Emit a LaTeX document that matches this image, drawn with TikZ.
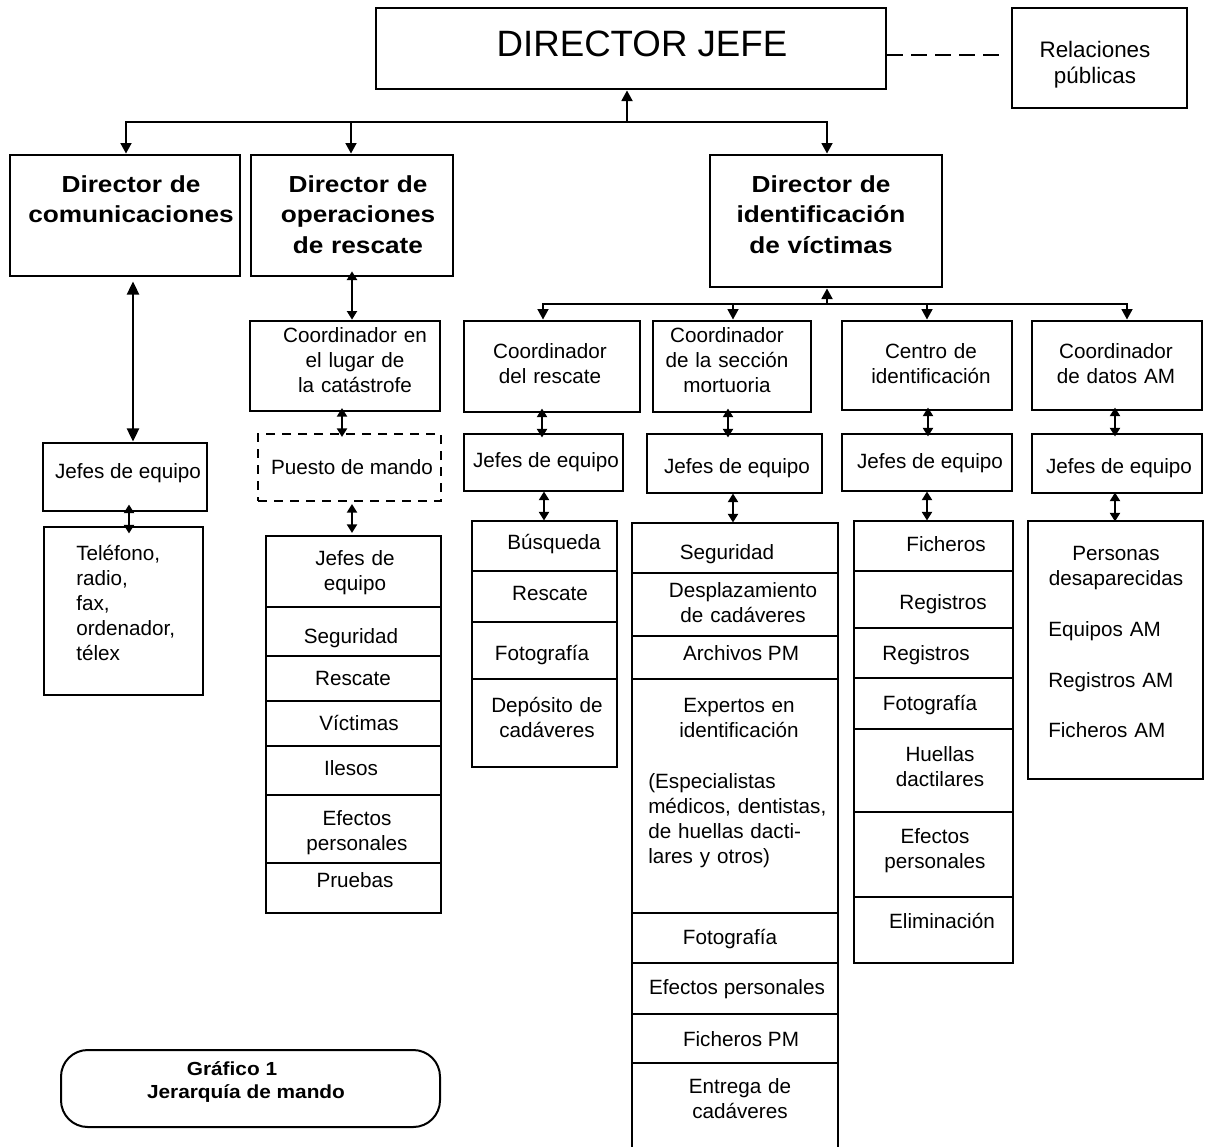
\documentclass[tikz,border=0pt]{standalone}
\usepackage{fontspec}
\setmainfont{Liberation Sans}
\newfontfamily\widefam{Liberation Sans}[FakeStretch=1.13]
\newfontfamily\capfam{Liberation Sans}[FakeStretch=1.1]
\usetikzlibrary{arrows.meta,fit,calc}
\newcommand\nf{\fontsize{15.5pt}{18.75pt}\selectfont}
\newcommand\hf{\widefam\fontsize{17.4pt}{22.9pt}\selectfont\bfseries}
\newcommand\djf{\fontsize{27.5pt}{33pt}\selectfont}
\newcommand\rpf{\fontsize{16.8pt}{19.5pt}\selectfont}
\newcommand\cf{\capfam\fontsize{14.2pt}{17.25pt}\selectfont\bfseries}
\tikzset{
  bx/.style={draw, line width=2pt, inner sep=0pt},
  ln/.style={line width=2pt},
  bar/.style={line width=2pt, line cap=rect},
  ar/.style={ln, -{Triangle[length=8pt,width=8pt]}},
  sdar/.style={ln, {Triangle[length=6.5pt,width=7.5pt]}-{Triangle[length=6.5pt,width=7.5pt]}},
  ldar/.style={ln, {Triangle[length=10pt,width=9pt]}-{Triangle[length=10pt,width=9pt]}},
  txt/.style={inner sep=0pt, anchor=base, font=\nf},
  mtxt/.style={txt, align=center},
  ltxt/.style={txt, anchor=base west, align=left},
}
\newcommand\BX[5]{\node[bx, fit={(#2,#3) (#4,#5)}] (#1) {};}
\newcommand\TX[4]{\node[txt] (#1) at (#2,#3) {#4};}
\newcommand\MT[5]{\node[mtxt, text width={#4*0.75pt}] (#1) at (#2,#3) {#5};}
\newcommand\LT[5]{\node[ltxt, text width={#4*0.75pt}] (#1) at (#2,#3) {#5};}
\newcommand\SDA[3]{\coordinate (kx) at (#3,0);
  \coordinate (km) at ($(#1.south -| kx)!0.5!(#2.north -| kx)$);
  \draw[sdar] ($(km)+(0,-14.5)$) -- ($(km)+(0,14.5)$);}
\begin{document}
\begin{tikzpicture}[x=0.75pt,y=-0.75pt]
\useasboundingbox (0,0) rectangle (1208,1147);
% top
\BX{dj}{376}{8}{886}{89}
\node[txt, font=\djf] (djt) at (642,56) {DIRECTOR JEFE};
\BX{rp}{1012}{8}{1187}{108}
\node[mtxt, font=\rpf, text width={170*0.75pt}] (rpt) at (1095,57) {Relaciones\\públicas};
\coordinate (dl) at (0,55);
\coordinate (dr) at (1007,55);
\draw[line width=1.5pt, dash pattern=on 12pt off 6pt] (dj.east |- dl) -- (dr);
% level 1
\BX{dcom}{10}{155}{240}{276}
\BX{dops}{251}{155}{453}{276}
\BX{did}{710}{155}{942}{287}
\node[mtxt, font=\hf, text width={230*0.75pt}] (dcomt) at (131,192) {Director de\\comunicaciones};
\node[mtxt, font=\hf, text width={200*0.75pt}] (dopst) at (358,192) {Director de\\operaciones\\de rescate};
\node[mtxt, font=\hf, text width={230*0.75pt}] (didt) at (821,192) {Director de\\identificación\\de víctimas};
\coordinate (b0) at (627,122);
\coordinate (b1) at (126,122);
\coordinate (b2) at (351,122);
\coordinate (b3) at (827,122);
\draw[bar] (b1) -- (b3);
\draw[ar] (b0) -- (b0 |- dj.south);
\draw[ar] (b1) -- (b1 |- dcom.north);
\draw[ar] (b2) -- (b2 |- dops.north);
\draw[ar] (b3) -- (b3 |- did.north);
% communications column
\BX{jcom}{43}{443}{207}{511}
\TX{jcomt}{128}{478}{Jefes de equipo}
\BX{tel}{44}{527}{203}{695}
\LT{telt}{76}{560}{120}{Teléfono,\\radio,\\fax,\\ordenador,\\télex}
\coordinate (k1) at (133,0);
\draw[ldar] ([yshift=-3pt]dcom.south -| k1) -- (jcom.north -| k1);
\SDA{jcom}{tel}{129}
% operations column
\BX{cos}{250}{321}{440}{411}
\MT{cost}{355}{342}{190}{Coordinador en\\el lugar de\\la catástrofe}
\node[draw, line width=2pt, dash pattern=on 7pt off 5pt, inner sep=0pt, fit={(258,434) (441,501)}] (pm) {};
\TX{pmt}{352}{474}{Puesto de mando}
\BX{o1}{266}{536}{441}{607}
\BX{o2}{266}{607}{441}{656}
\BX{o3}{266}{656}{441}{701}
\BX{o4}{266}{701}{441}{746}
\BX{o5}{266}{746}{441}{795}
\BX{o6}{266}{795}{441}{863}
\BX{o7}{266}{863}{441}{913}
\MT{o1t}{355}{565}{175}{Jefes de\\equipo}
\TX{o2t}{351}{643}{Seguridad}
\TX{o3t}{353}{685}{Rescate}
\TX{o4t}{359}{730}{Víctimas}
\TX{o5t}{351}{775}{Ilesos}
\MT{o6t}{357}{825}{175}{Efectos\\personales}
\TX{o7t}{355}{887}{Pruebas}
\coordinate (k2) at (352,0);
\draw[sdar] ([yshift=4.5pt]dops.south -| k2) -- (cos.north -| k2);
\SDA{cos}{pm}{342}
\SDA{pm}{o1}{352}
% identification subtree
\BX{crs}{464}{321}{640}{412}
\BX{cmo}{653}{321}{811}{412}
\BX{cid}{842}{321}{1012}{410}
\BX{cam}{1032}{321}{1202}{410}
\MT{crst}{550}{358}{176}{Coordinador\\del rescate}
\MT{cmot}{727}{342}{158}{Coordinador\\de la sección\\mortuoria}
\MT{cidt}{931}{358}{170}{Centro de\\identificación}
\MT{camt}{1116}{358}{170}{Coordinador\\de datos AM}
\coordinate (r0) at (827,304);
\coordinate (r1) at (543,304);
\coordinate (r2) at (733,304);
\coordinate (r3) at (927,304);
\coordinate (r4) at (1127,304);
\draw[bar] (r1) -- (r4);
\draw[ar] (r0) -- (r0 |- did.south);
\draw[ar] (r1) -- (r1 |- crs.north);
\draw[ar] (r2) -- (r2 |- cmo.north);
\draw[ar] (r3) -- (r3 |- cid.north);
\draw[ar] (r4) -- (r4 |- cam.north);
\BX{jrs}{464}{434}{623}{491}
\BX{jmo}{647}{434}{822}{493}
\BX{jid}{842}{434}{1012}{491}
\BX{jam}{1032}{434}{1202}{493}
\TX{jrst}{546}{467}{Jefes de equipo}
\TX{jmot}{737}{473}{Jefes de equipo}
\TX{jidt}{930}{468}{Jefes de equipo}
\TX{jamt}{1119}{473}{Jefes de equipo}
\SDA{crs}{jrs}{542}
\SDA{cmo}{jmo}{728}
\SDA{cid}{jid}{928}
\SDA{cam}{jam}{1115}
% rescue list
\BX{rs1}{472}{521}{617}{571}
\BX{rs2}{472}{571}{617}{622}
\BX{rs3}{472}{622}{617}{679}
\BX{rs4}{472}{679}{617}{767}
\TX{rs1t}{554}{549}{Búsqueda}
\TX{rs2t}{550}{600}{Rescate}
\TX{rs3t}{542}{660}{Fotografía}
\MT{rs4t}{547}{712}{145}{Depósito de\\cadáveres}
\SDA{jrs}{rs1}{544}
% mortuary list
\BX{mo1}{632}{523}{838}{573}
\BX{mo2}{632}{573}{838}{636}
\BX{mo3}{632}{636}{838}{679}
\BX{mo4}{632}{679}{838}{913}
\BX{mo5}{632}{913}{838}{963}
\BX{mo6}{632}{963}{838}{1014}
\BX{mo7}{632}{1014}{838}{1063}
\BX{mo8}{632}{1063}{838}{1152}
\TX{mo1t}{727}{559}{Seguridad}
\MT{mo2t}{743}{597}{206}{Desplazamiento\\de cadáveres}
\TX{mo3t}{741}{660}{Archivos PM}
\MT{mo4t}{739}{712}{206}{Expertos en\\identificación}
\LT{mo4u}{648}{788}{190}{(Especialistas\\médicos, dentistas,\\de huellas dacti-\\lares y otros)}
\TX{mo5t}{730}{944}{Fotografía}
\TX{mo6t}{737}{994}{Efectos personales}
\TX{mo7t}{741}{1046}{Ficheros PM}
\MT{mo8t}{740}{1093}{206}{Entrega de\\cadáveres}
\SDA{jmo}{mo1}{733}
% identification centre list
\BX{ci1}{854}{521}{1013}{571}
\BX{ci2}{854}{571}{1013}{628}
\BX{ci3}{854}{628}{1013}{678}
\BX{ci4}{854}{678}{1013}{729}
\BX{ci5}{854}{729}{1013}{812}
\BX{ci6}{854}{812}{1013}{897}
\BX{ci7}{854}{897}{1013}{963}
\TX{ci1t}{946}{551}{Ficheros}
\TX{ci2t}{943}{609}{Registros}
\TX{ci3t}{926}{660}{Registros}
\TX{ci4t}{930}{710}{Fotografía}
\MT{ci5t}{940}{761}{159}{Huellas\\dactilares}
\MT{ci6t}{935}{843}{159}{Efectos\\personales}
\TX{ci7t}{942}{928}{Eliminación}
\SDA{jid}{ci1}{927}
% AM data list
\BX{am1}{1028}{521}{1203}{779}
\MT{am1t}{1116}{560}{175}{Personas\\desaparecidas}
\LT{am2t}{1048}{636}{150}{Equipos AM}
\LT{am3t}{1048}{687}{150}{Registros AM}
\LT{am4t}{1048}{737}{150}{Ficheros AM}
\SDA{jam}{am1}{1115}
% caption
\node[draw, line width=1.5pt, rounded corners=20pt, inner sep=0pt, fit={(61,1050) (440,1127)}] (cap) {};
\node[txt, font=\cf] (cap1) at (232,1075) {Gráfico 1};
\node[txt, font=\cf] (cap2) at (246,1098) {Jerarquía de mando};
\end{tikzpicture}
\end{document}
